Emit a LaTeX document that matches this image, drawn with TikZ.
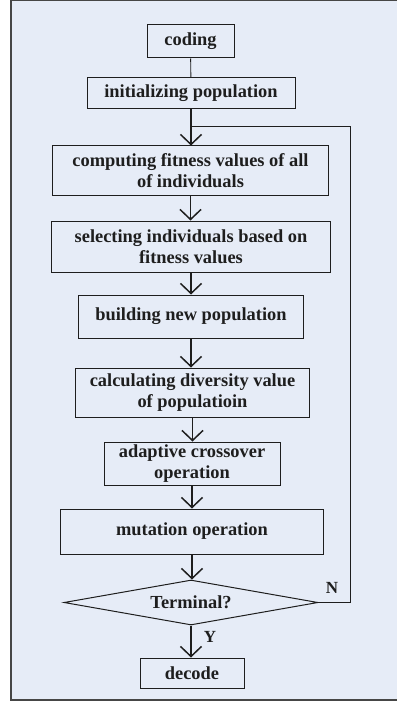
\documentclass[tikz,border=0pt]{standalone}
\usepackage{fontspec}
\setmainfont{Liberation Serif}
\usetikzlibrary{arrows.meta,shapes.geometric}
\definecolor{panel}{RGB}{230,236,247}
\definecolor{ink}{RGB}{30,30,30}
\definecolor{framegray}{RGB}{70,70,70}
\tikzset{
  stepbox/.style={draw=ink, line width=1bp, align=center, inner sep=0pt,
    font=\bfseries\fontsize{18.4bp}{21bp}\selectfont, text=ink},
  flow/.style={draw=ink, line width=1.5bp, -{Straight Barb[length=10bp,width=21bp,line width=1.5bp]}},
  link/.style={draw=ink, line width=0.9bp},
  tag/.style={font=\bfseries\fontsize{17bp}{19bp}\selectfont, text=ink, inner sep=0pt}
}
\begin{document}
\begin{tikzpicture}[x=1bp,y=-1bp]
  \useasboundingbox (0,0) rectangle (397,702);
  \fill[panel] (11,0) rectangle (397,700);
  \draw[framegray, line width=1.5bp] (397,0.7) -- (11,0.7) -- (11,700) -- (397,700);

  % process steps (corner to corner)
  \node[stepbox, minimum width=87bp, minimum height=33bp] (coding) at (190.5,41.5) {coding};
  \node[stepbox, minimum width=208bp, minimum height=31bp] (init) at (191,93.5) {initializing population};
  \node[stepbox, minimum width=275bp, minimum height=49bp] (fit) at (190.5,170.5) {computing fitness values of all\\of individuals};
  \node[stepbox, minimum width=278bp, minimum height=51bp] (sel) at (191,246.5) {selecting individuals based on\\fitness values};
  \node[stepbox, minimum width=224bp, minimum height=43bp] (build) at (191,316.5) {building new population};
  \node[stepbox, minimum width=233bp, minimum height=49bp] (div) at (192.5,392.5) {calculating diversity value\\of populatioin};
  \node[stepbox, minimum width=176bp, minimum height=43bp] (cross) at (192,463.5) {adaptive crossover\\operation};
  \node[stepbox, minimum width=262bp, minimum height=45bp] (mut) at (192,531.5) {mutation operation};
  \node[stepbox, diamond, aspect=5.6, minimum width=254bp, minimum height=45bp] (term) at (191,602.5) {Terminal?};
  \node[stepbox, minimum width=104bp, minimum height=30bp] (dec) at (192,673) {decode};

  % flow between steps
  \draw[link] (coding) -- (init);
  \draw[flow] (init.south) -- (init.south |- fit.north);
  \draw[flow] (fit.south) -- (fit.south |- sel.north);
  \draw[flow] (sel.south) -- (sel.south |- build.north);
  \draw[flow] (build.south) -- (build.south |- div.north);
  \draw[flow] (div.south) -- (div.south |- cross.north);
  \draw[flow] (cross.south) -- (cross.south |- mut.north);
  \draw[flow] (mut.south) -- (mut.south |- term.north);
  \draw[flow] (term.south) -- (term.south |- dec.north);

  % loop back when not finished
  \coordinate (join) at (191,126);
  \draw[link] (term.east) -- (350,602.5) -- (350,126) -- (join);

  \node[tag] (no) at (332,588) {N};
  \node[tag] (yes) at (210,637) {Y};
\end{tikzpicture}
\end{document}
